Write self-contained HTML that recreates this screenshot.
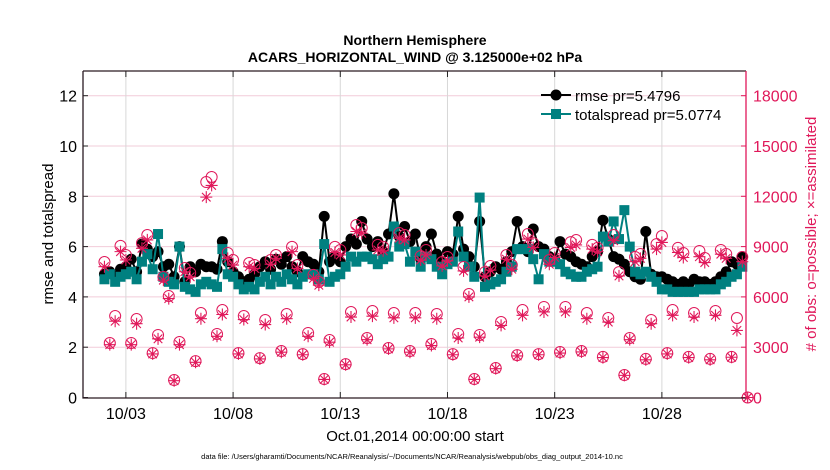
<!DOCTYPE html>
<html><head><meta charset="utf-8"><style>
html,body{margin:0;padding:0;background:#fff;}
svg{display:block;font-family:"Liberation Sans",Arial,sans-serif;}
</style></head><body>
<svg id="chart" width="830" height="470" viewBox="0 0 830 470" xmlns="http://www.w3.org/2000/svg">
<text x="415" y="45" text-anchor="middle" font-size="14" font-weight="bold">Northern Hemisphere</text>
<text x="415" y="62" text-anchor="middle" font-size="14" font-weight="bold">ACARS_HORIZONTAL_WIND @ 3.125000e+02 hPa</text>
<g id="grid"></g>
<g id="series"></g>
<g id="axes"></g>
<text transform="translate(53,234) rotate(-90)" text-anchor="middle" font-size="15">rmse and totalspread</text>
<text transform="translate(816,234) rotate(-90)" text-anchor="middle" font-size="15" fill="#e0185a">#  of obs: o=possible; ×=assimilated</text>
<text x="415" y="441" text-anchor="middle" font-size="15">Oct.01,2014 00:00:00 start</text>
<text x="412" y="459" text-anchor="middle" font-size="7.5">data file: /Users/gharamti/Documents/NCAR/Reanalysis/~/Documents/NCAR/Reanalysis/webpub/obs_diag_output_2014-10.nc</text>
<g id="legend">
 <g>
  <line x1="541" y1="95" x2="571" y2="95" stroke="#000" stroke-width="2"/>
  <circle cx="556" cy="95" r="5.5" fill="#000"/>
  <text x="575" y="101" font-size="15">rmse pr=5.4796</text>
 </g>
 <g>
  <line x1="541" y1="114" x2="571" y2="114" stroke="#008080" stroke-width="2"/>
  <rect x="551" y="109" width="10" height="10" fill="#008080"/>
  <text x="575" y="120" font-size="15">totalspread pr=5.0774</text>
 </g>
</g>
</svg>
<script>
const dateTicks = ["10/03","10/08","10/13","10/18","10/23","10/28"];
const dateTickDays = [2,7,12,17,22,27];
const leftTicks = [0,2,4,6,8,10,12];
const rightTicks = [0,3000,6000,9000,12000,15000,18000];
const rmse = [4.9,5.0,4.8,5.1, 5.2,5.5,5.0,6.1, 5.9,5.6,5.8,5.2, 5.3,4.8,6.0,4.6, 5.2,5.0,5.3,5.2,
 5.2,5.1,6.2,5.4, 5.0,4.8,4.6,4.7, 4.9,5.2,5.4,5.1, 5.5,5.3,5.6,5.2, 5.0,5.6,5.4,5.3,
 5.0,7.2,5.4,5.6, 5.4,6.0,6.3,6.1, 7.0,6.3,6.0,6.2, 5.8,6.5,8.1,6.4, 6.8,6.2,6.5,5.5,
 6.0,6.5,5.7,5.4, 5.8,5.7,7.2,5.9, 5.6,5.2,7.0,4.8, 5.0,5.2,5.1,5.4, 5.8,7.0,6.0,5.8,
 6.7,6.0,5.9,5.6, 5.5,6.2,5.7,5.6, 5.4,5.3,5.2,5.6, 5.8,7.05,6.3,5.6, 5.5,5.3,5.0,4.8,
 4.7,6.6,4.9,4.8, 4.8,4.7,4.6,4.5, 4.6,4.5,4.7,4.6, 4.6,4.5,4.6,4.8, 5.0,5.4,5.3,5.6];
const spread = [4.7,4.9,4.6,4.8, 4.9,5.0,4.7,5.4, 5.7,5.1,6.5,4.8, 4.6,4.5,6.0,4.4, 4.3,4.2,4.5,4.6,
 4.5,4.4,5.9,4.9, 4.8,4.5,4.3,4.4, 4.3,4.6,4.8,4.5, 4.8,4.6,4.9,4.7, 4.5,4.8,4.9,4.9,
 4.7,6.1,4.6,4.8, 4.9,5.2,5.6,5.4, 5.6,5.6,5.5,5.3, 5.5,5.6,6.8,6.0, 6.1,5.4,5.8,5.2,
 5.6,5.5,5.2,4.9, 5.3,5.4,6.6,5.6, 5.2,4.8,7.95,4.4, 4.5,4.6,4.7,5.0, 5.2,5.9,5.9,5.9,
 5.5,4.7,5.7,5.4, 5.4,5.3,5.0,4.9, 4.8,4.8,5.0,5.1, 5.2,6.4,6.2,7.0, 6.3,7.45,6.0,5.0,
 4.9,5.0,4.8,4.6, 4.3,4.3,4.2,4.2, 4.2,4.2,4.2,4.3, 4.3,4.3,4.3,4.5, 4.6,4.8,4.9,5.2];
const obsPossible = [8080,3250,4860,9040, 8500,3250,4680,9210, 9690,2650,3730,7190, 6050,1040,3310,7720,
 7430,2170,5040,12850, 13150,3790,5220,8620, 8200,2650,4860,8020, 7900,2350,4620,8200,
 8500,2770,4980,8980, 7900,2590,3850,7310, 6890,1100,3430,8980, 8800,1990,5100,10290,
 10110,3550,5160,9100, 8980,2950,5040,9810, 9690,2770,5040,8440, 8800,3190,4980,8080,
 8380,2590,3790,7780, 6170,1100,3730,7480, 7840,1760,4500,8500, 7900,2530,5220,9750,
 9210,2590,5400,8200, 8620,2710,5400,9270, 9390,2770,5040,9100, 8920,2420,4740,9690,
 7480,1340,3550,8380, 8560,2300,4620,9150, 9630,2650,5220,8920, 8620,2420,5040,8740,
 8320,2300,5160,8800, 8560,2420,4740,8380, 0];
const obsAssim = [7800,3150,4550,8700, 8200,3150,4400,8900, 9400,2600,3500,7000, 5900,1000,3150,7500,
 7200,2100,4700,11950, 12650,3650,4950,8300, 7900,2600,4650,7800, 7700,2300,4350,7950,
 8300,2700,4700,8700, 7700,2550,3650,7100, 6700,1080,3300,8650, 8500,1950,4800,9900,
 9800,3450,4850,8800, 8750,2900,4750,9500, 9400,2700,4750,8200, 8500,3100,4700,7850,
 8150,2550,3550,7550, 6000,1080,3600,7250, 7600,1720,4300,8250, 7650,2480,4900,9450,
 8950,2550,5100,7950, 8350,2650,5100,8950, 9100,2720,4700,8850, 8700,2380,4500,9350,
 7250,1320,3450,8100, 8300,2250,4400,8850, 9250,2600,4900,8650, 8350,2380,4800,8400,
 8050,2250,4900,8550, 8300,2400,4000,8100, 0];
const startDay = 1.0, stepDay = 0.25;

const NS = "http://www.w3.org/2000/svg";
const L = 83, R = 746, T = 71, B = 398;
const xS = d => 83 + d * 21.44;
const yL = v => 397.5 - v * 25.15;
const yR = v => 397.5 - v / 59.64;
function mk(tag, attrs, parent){const e=document.createElementNS(NS,tag);for(const k in attrs)e.setAttribute(k,attrs[k]);parent.appendChild(e);return e;}
const grid=document.getElementById('grid'), ser=document.getElementById('series'), axes=document.getElementById('axes');
const PINK="#e0185a";

leftTicks.forEach((v,i)=>{
  if(v>0){const g=mk('line',{x1:L,x2:R,y1:yL(v),y2:yL(v),stroke:"#f2ccd9","stroke-width":1},grid);
  
  }
  const t=mk('text',{x:L-6,y:yL(v)+6,"text-anchor":"end","font-size":16},axes);t.textContent=v;
  
  
  mk('line',{x1:L,x2:L+5,y1:yL(v),y2:yL(v),stroke:"#222"},axes);
});
rightTicks.forEach(v=>{
  const t=mk('text',{x:R+7,y:yR(v)+6,"font-size":16,fill:PINK},axes);t.textContent=v;
  
  
  mk('line',{x1:R-5,x2:R,y1:yR(v),y2:yR(v),stroke:PINK},axes);
});
dateTickDays.forEach((d,i)=>{
  const x=xS(d);
  const g=mk('line',{x1:x,x2:x,y1:T,y2:B,stroke:"#d8d8d8"},grid);
  
  
  mk('line',{x1:x,x2:x,y1:B,y2:B-6,stroke:"#222"},axes);
  mk('line',{x1:x,x2:x,y1:T,y2:T+6,stroke:"#222"},axes);
  const t=mk('text',{x:x,y:419,"text-anchor":"middle","font-size":16},axes);t.textContent=dateTicks[i];
  
  
});
mk('path',{d:`M${L},${T}H${R}M${L},${T}V${B}H${R}`,stroke:"#2a1a22","stroke-width":1.3,fill:"none"},axes);
mk('line',{x1:R,x2:R,y1:T,y2:B,stroke:PINK,"stroke-width":1.3},axes);

function linePts(arr){return arr.map((v,i)=>xS(startDay+i*stepDay).toFixed(1)+","+yL(v).toFixed(1)).join(" ");}
const rl=mk('polyline',{points:linePts(rmse),fill:"none",stroke:"#000","stroke-width":2},ser);


rmse.forEach((v,i)=>{const c=mk('circle',{cx:xS(startDay+i*stepDay),cy:yL(v),r:5.5,fill:"#000"},ser);
  
  });
const sl=mk('polyline',{points:linePts(spread),fill:"none",stroke:"#008080","stroke-width":2},ser);


spread.forEach((v,i)=>{const x=xS(startDay+i*stepDay),y=yL(v);
  const r=mk('rect',{x:x-5,y:y-5,width:10,height:10,fill:"#008080"},ser);
  
  });
obsPossible.forEach((v,i)=>{const c=mk('circle',{cx:xS(startDay+i*stepDay),cy:yR(v),r:5.5,fill:"none",stroke:PINK,"stroke-width":1},ser);
  
  });
obsAssim.forEach((v,i)=>{const x=xS(startDay+i*stepDay),y=yR(v),s=6,d=4.3;
  const p=mk('path',{d:`M${x-s},${y}H${x+s}M${x},${y-s}V${y+s}M${x-d},${y-d}L${x+d},${y+d}M${x-d},${y+d}L${x+d},${y-d}`,stroke:PINK,"stroke-width":1.1,fill:"none"},ser);
  
  });
</script>
</body></html>
